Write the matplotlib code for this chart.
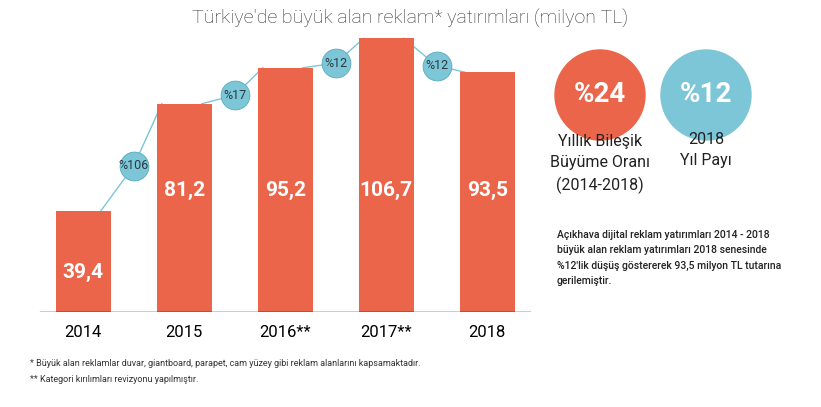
import matplotlib.pyplot as plt
from matplotlib.patches import Ellipse

years = ["2014", "2015", "2016**", "2017**", "2018"]
values = [39.4, 81.2, 95.2, 106.7, 93.5]
labels = ["39,4", "81,2", "95,2", "106,7", "93,5"]
growth = ["%106", "%17", "%12", "%12"]
growth_y = [57, 84.5, 97, 96]
label_y = [15.5, 47.5, 47.5, 47.5, 47.5]

CORAL = "#ea6549"
BLUE = "#7cc6d7"
plt.rcParams['font.family'] = ['Roboto', 'DejaVu Sans']

fig = plt.figure(figsize=(8.21, 4.07), dpi=100)
ax = fig.add_axes([0.040, 0.233, 0.615, 0.673])
w = 0.545
xs = range(len(values))
ax.bar(xs, values, width=w, color=CORAL, zorder=2)
for x, v, l, ly in zip(xs, values, labels, label_y):
    ax.text(x, ly, l, color="white", fontsize=15, fontweight="bold", ha="center", va="center", zorder=4)

# connector line: top-right of bar i -> circle -> top-left of bar i+1
for i, (g, gy) in enumerate(zip(growth, growth_y)):
    ax.plot([i + w / 2 - 0.1, i + 0.5, i + 1 - w / 2 + 0.05], [values[i], gy, values[i + 1]],
            color=BLUE, lw=1, zorder=1, clip_on=False)
    ax.scatter([i + 0.5], [gy], s=430, color=BLUE, edgecolor="#5aaabb", lw=0.6, zorder=3, clip_on=False)
    ax.text(i + 0.5, gy, g, fontsize=9, color="#2a3a40", ha="center", va="center", zorder=4)

ax.set_xlim(-0.5, 4.5)
ax.set_ylim(0, 106.7)
ax.axhline(0, color="black", lw=1, xmin=0.015, xmax=0.985)
for s in ax.spines.values():
    s.set_visible(False)
ax.set_yticks([])
ax.set_xticks(list(xs))
ax.set_xticklabels(years, fontsize=12)
ax.tick_params(axis="x", length=0, pad=9)

fig.text(0.5, 0.955, "Türkiye'de büyük alan reklam* yatırımları (milyon TL)", ha="center", va="center",
         fontsize=14, color="#333333", fontweight="light")

# right side circles
for cx, txt, col in [(600, "%24", CORAL), (706, "%12", BLUE)]:
    c = Ellipse((cx / 821, 1 - 95 / 407), 90 / 821, 90 / 407, transform=fig.transFigure, color=col)
    fig.add_artist(c)
    fig.text(cx / 821, 1 - 95 / 407, txt, color="white", fontsize=20, fontweight="bold", ha="center", va="center")
fig.text(600 / 821, 1 - 164 / 407, "Yıllık Bileşik\nBüyüme Oranı\n(2014-2018)", ha="center", va="center",
         fontsize=11.5, linespacing=1.5, color="#222222")
fig.text(706 / 821, 1 - 150 / 407, "2018\nYıl Payı", ha="center", va="center",
         fontsize=11.5, linespacing=1.5, color="#222222")
fig.text(557 / 821, 1 - 258 / 407,
         "Açıkhava dijital reklam yatırımları 2014 - 2018\nbüyük alan reklam yatırımları 2018 senesinde\n"
         "%12'lik düşüş göstererek 93,5 milyon TL tutarına\ngerilemiştir.",
         ha="left", va="center", fontsize=7.5, linespacing=1.7, color="#222222", fontweight="medium")

fig.text(30 / 821, 1 - 364 / 407,
         "* Büyük alan reklamlar duvar, giantboard, parapet, cam yüzey gibi reklam alanlarını kapsamaktadır.",
         fontsize=6.5, color="#333333", va="center")
fig.text(30 / 821, 1 - 380 / 407, "** Kategori kırılımları revizyonu yapılmıştır.",
         fontsize=6.5, color="#333333", va="center")

fig.savefig("out.png", dpi=100)
